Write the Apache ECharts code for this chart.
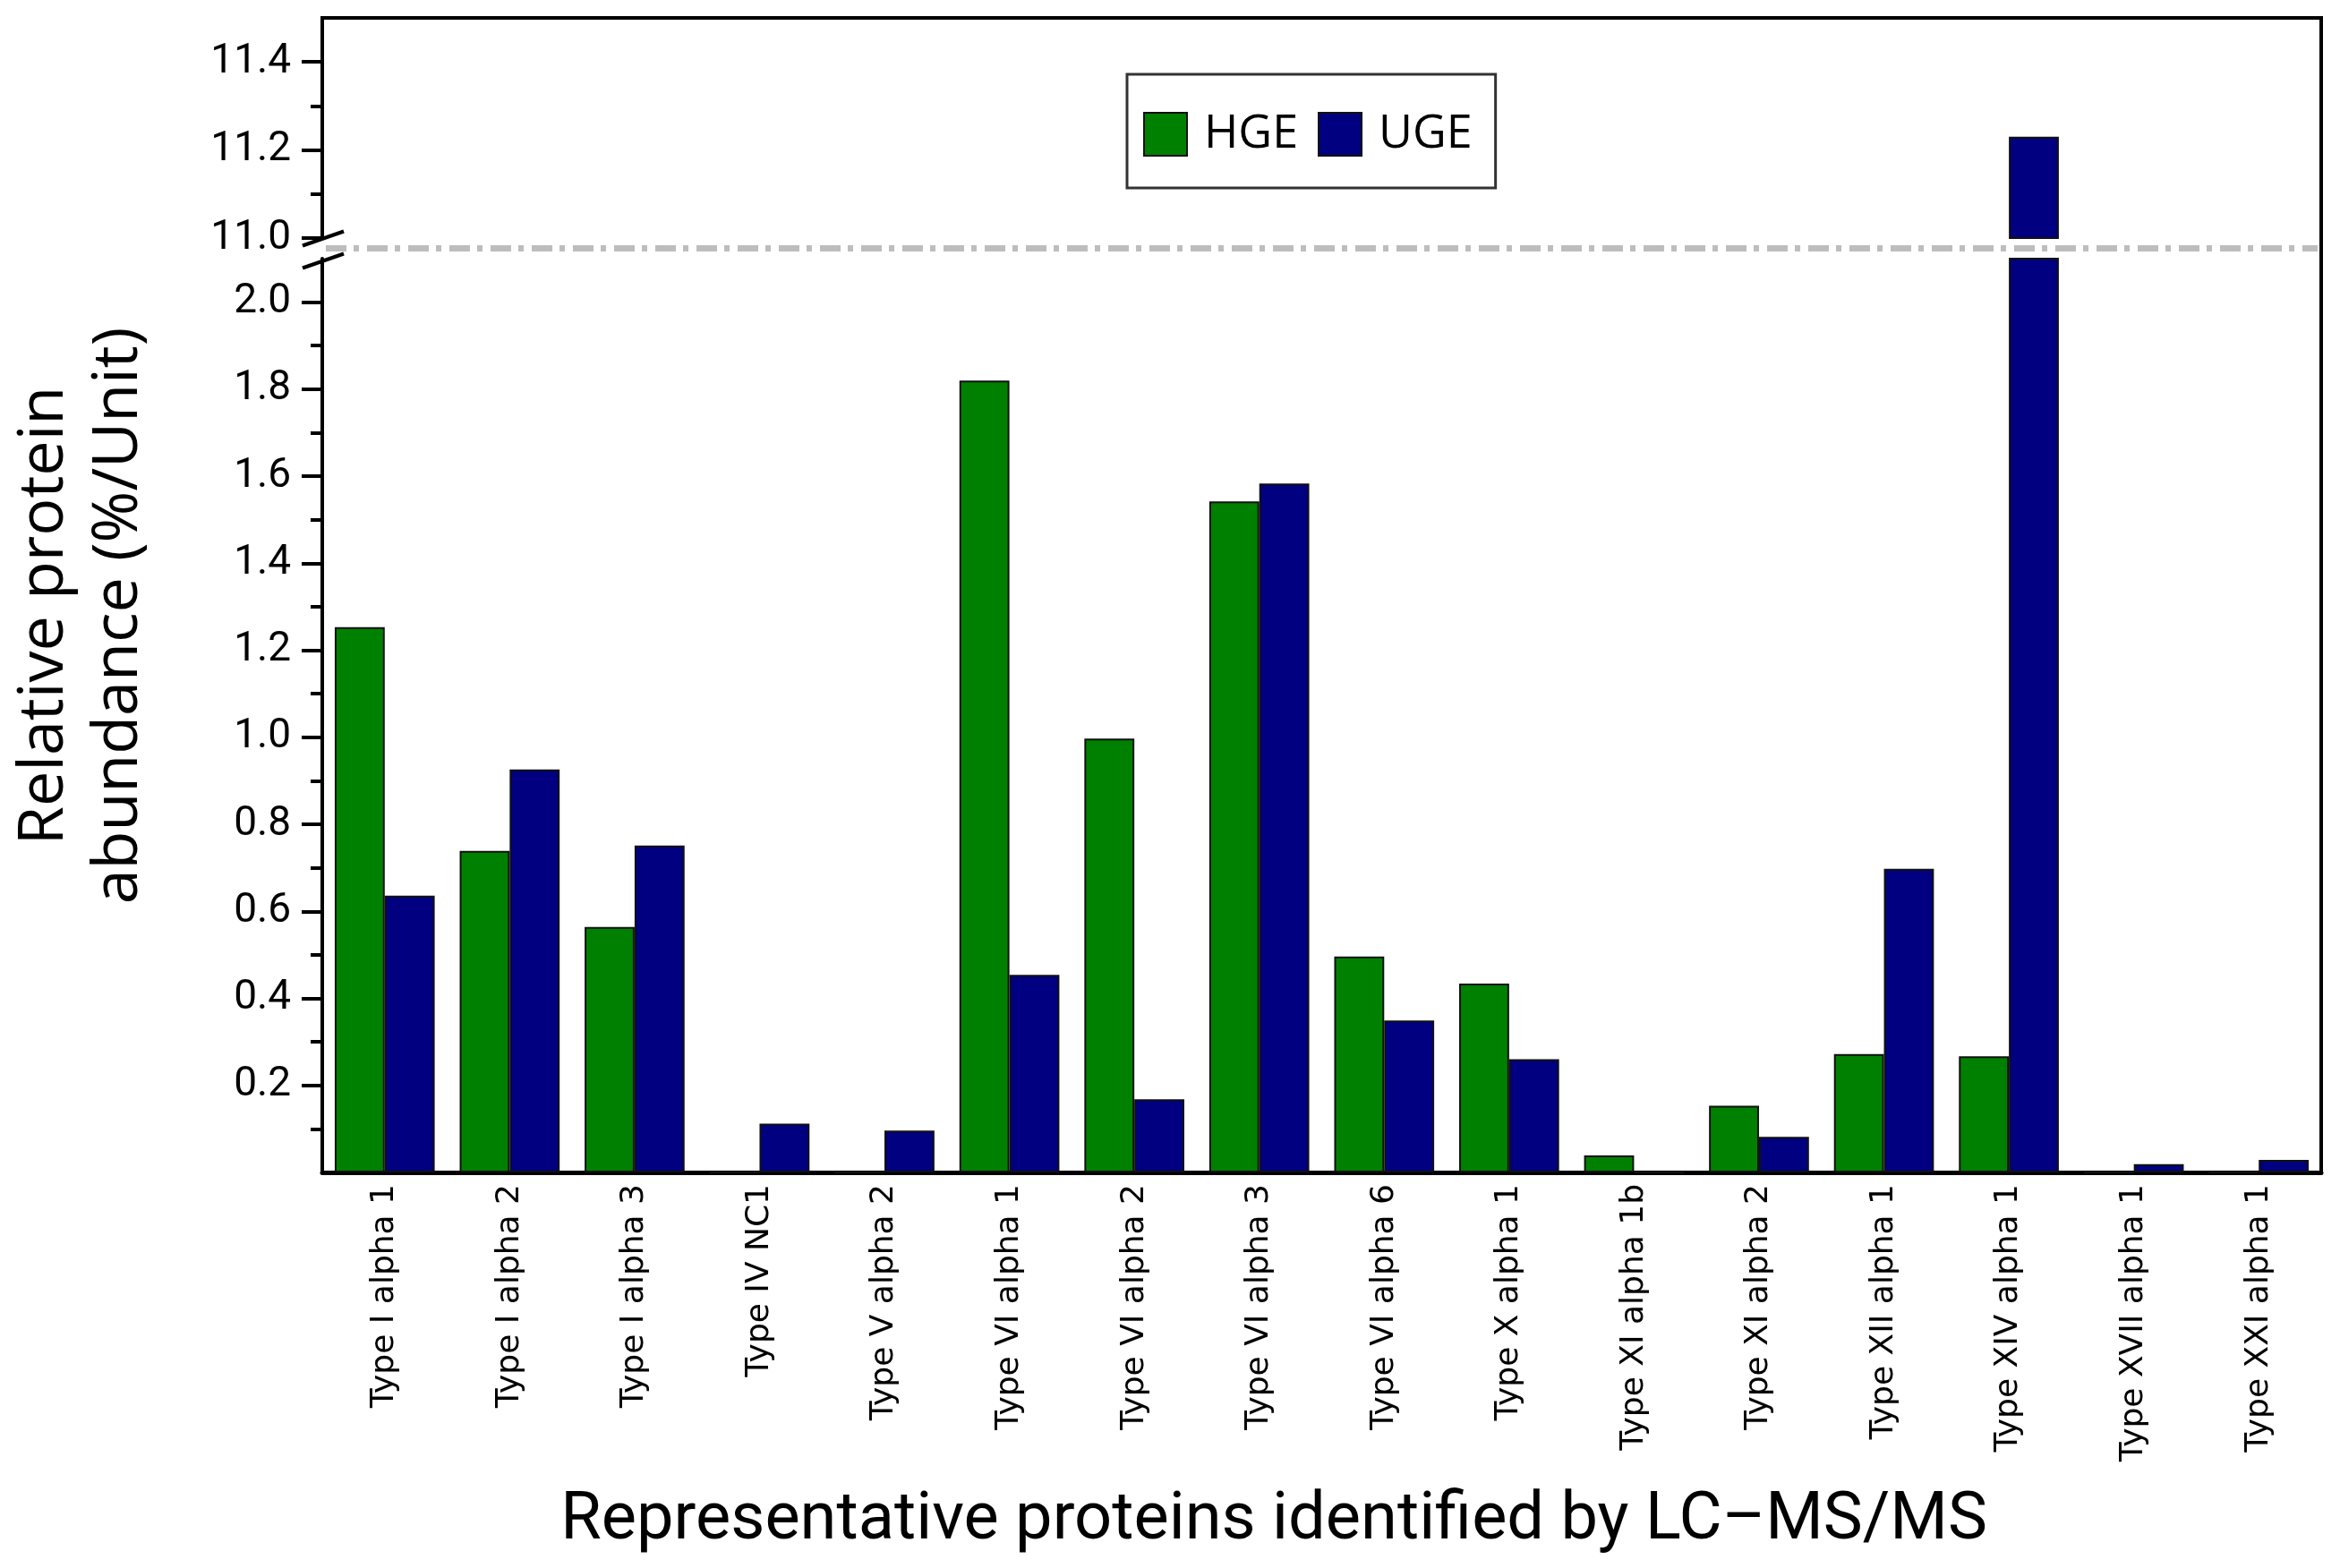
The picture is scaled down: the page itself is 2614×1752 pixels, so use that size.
<!DOCTYPE html>
<html><head><meta charset="utf-8">
<script src="https://cdn.jsdelivr.net/npm/echarts@6/dist/echarts.min.js"></script>
<style>html,body{margin:0;padding:0;background:#fff}#c{width:2614px;height:1752px}</style>
</head><body><div id="c"></div>
<script>
// ---- data ----
const categories = ['Type I alpha 1','Type I alpha 2','Type I alpha 3','Type IV NC1','Type V alpha 2','Type VI alpha 1','Type VI alpha 2','Type VI alpha 3','Type VI alpha 6','Type X alpha 1','Type XI alpha 1b','Type XI alpha 2','Type XII alpha 1','Type XIV alpha 1','Type XVII alpha 1','Type XXI alpha 1'];
const hgeValues = [1.253, 0.739, 0.564, 0, 0, 1.820, 0.997, 1.542, 0.496, 0.434, 0.039, 0.153, 0.272, 0.267, 0, 0];
const ugeValues = [0.636, 0.926, 0.751, 0.112, 0.096, 0.454, 0.168, 1.583, 0.349, 0.260, 0, 0.082, 0.698, 11.23, 0.019, 0.029];
const upperRange = [11.0, 11.5];
const lowerRange = [0, 2.1];
const upperMajorTicks = [11.0, 11.2, 11.4];
const upperMinorTicks = [11.1, 11.3];
const lowerMajorTicks = [0.2, 0.4, 0.6, 0.8, 1.0, 1.2, 1.4, 1.6, 1.8, 2.0];
const lowerMinorTicks = [0.1, 0.3, 0.5, 0.7, 0.9, 1.1, 1.3, 1.5, 1.7, 1.9];

// ---- layout ----
const W = 2614, H = 1752;
const L = 360, R = 2593, TOP = 20, UB = 266, LT = 289, BOT = 1310;
const BREAK_Y = (UB + LT) / 2;
const GREEN = '#008000', NAVY = '#000080';

const chart = echarts.init(document.getElementById('c'), null, {renderer: 'canvas'});

const tickFont = {fontFamily: 'Roboto', fontSize: 46, color: '#000'};
function majorAxis(grid, range, ticks) {
  return {
    type: 'value', gridIndex: grid, position: 'left', min: range[0], max: range[1],
    axisLine: {show: true, lineStyle: {color: '#000', width: 4}},
    axisTick: {show: true, inside: false, length: 23, lineStyle: {color: '#000', width: 4}, customValues: ticks},
    axisLabel: Object.assign({show: true, margin: 35, customValues: ticks, formatter: v => Number(v).toFixed(1)}, tickFont),
    splitLine: {show: false}
  };
}
function minorAxis(grid, range, ticks) {
  return {
    type: 'value', gridIndex: grid, position: 'left', min: range[0], max: range[1],
    axisLine: {show: false},
    axisTick: {show: true, inside: false, length: 13, lineStyle: {color: '#000', width: 4}, customValues: ticks},
    axisLabel: {show: false},
    splitLine: {show: false}
  };
}
function barSeries(name, data, color, xi, yi) {
  return {
    name, type: 'bar', xAxisIndex: xi, yAxisIndex: yi, data,
    barWidth: '40%', barGap: '0%', clip: true,
    itemStyle: {color, borderColor: '#111', borderWidth: 2}
  };
}

const option = {
  animation: false,
  backgroundColor: '#fff',
  grid: [
    {left: L, right: W - R, top: TOP, height: UB - TOP},
    {left: L, right: W - R, top: LT, height: BOT - LT}
  ],
  legend: {
    data: ['HGE', 'UGE'], left: 1259, top: 83, orient: 'horizontal',
    padding: [41, 26, 34, 18], itemWidth: 48, itemHeight: 48, itemGap: 22,
    icon: 'rect', borderColor: '#333', borderWidth: 3, backgroundColor: '#fff',
    textStyle: {fontFamily: 'Open Sans', fontSize: 52, color: '#000', padding: [0, 0, 0, 14]}
  },
  xAxis: [
    {type: 'category', gridIndex: 0, data: categories, show: false},
    {type: 'category', gridIndex: 1, data: categories, position: 'bottom',
     axisLine: {show: true, lineStyle: {color: '#000', width: 5}},
     axisTick: {show: false},
     axisLabel: {interval: 0, rotate: 90, margin: 13, fontFamily: 'DejaVu Sans', fontSize: 36, color: '#000'}}
  ],
  yAxis: [
    majorAxis(0, upperRange, upperMajorTicks),
    minorAxis(0, upperRange, upperMinorTicks),
    majorAxis(1, lowerRange, lowerMajorTicks),
    minorAxis(1, lowerRange, lowerMinorTicks)
  ],
  series: [
    barSeries('HGE', hgeValues, GREEN, 1, 2),
    barSeries('UGE', ugeValues, NAVY, 1, 2),
    barSeries('HGE', hgeValues, GREEN, 0, 0),
    barSeries('UGE', ugeValues, NAVY, 0, 0)
  ],
  graphic: [
    {type: 'line', z: 10, shape: {x1: L - 2, y1: TOP, x2: R + 2, y2: TOP}, style: {stroke: '#000', lineWidth: 4}},
    {type: 'line', z: 10, shape: {x1: R, y1: TOP, x2: R, y2: BOT}, style: {stroke: '#000', lineWidth: 4}},
    {type: 'line', z: 10, shape: {x1: L + 4, y1: BREAK_Y, x2: R - 4, y2: BREAK_Y},
     style: {stroke: '#bdbdbd', lineWidth: 7, lineDash: [23, 8, 6, 9]}},
    {type: 'line', z: 10, shape: {x1: L - 22, y1: BREAK_Y - 3, x2: L + 24, y2: BREAK_Y - 19}, style: {stroke: '#000', lineWidth: 4}},
    {type: 'line', z: 10, shape: {x1: L - 22, y1: BREAK_Y + 22, x2: L + 24, y2: BREAK_Y + 6}, style: {stroke: '#000', lineWidth: 4}},
    {type: 'text', z: 10, x: 92, y: 688, rotation: Math.PI / 2,
     style: {text: 'Relative protein\nabundance (%/Unit)', fontFamily: 'Open Sans', fontSize: 70, lineHeight: 83,
             fill: '#000', align: 'center', verticalAlign: 'middle'}},
    {type: 'text', z: 10, x: 1423, y: 1700,
     style: {text: 'Representative proteins identified by LC\u2013MS/MS', fontFamily: 'Roboto', fontSize: 74,
             fill: '#000', align: 'center', verticalAlign: 'middle'}}
  ]
};
chart.setOption(option);
</script></body></html>
